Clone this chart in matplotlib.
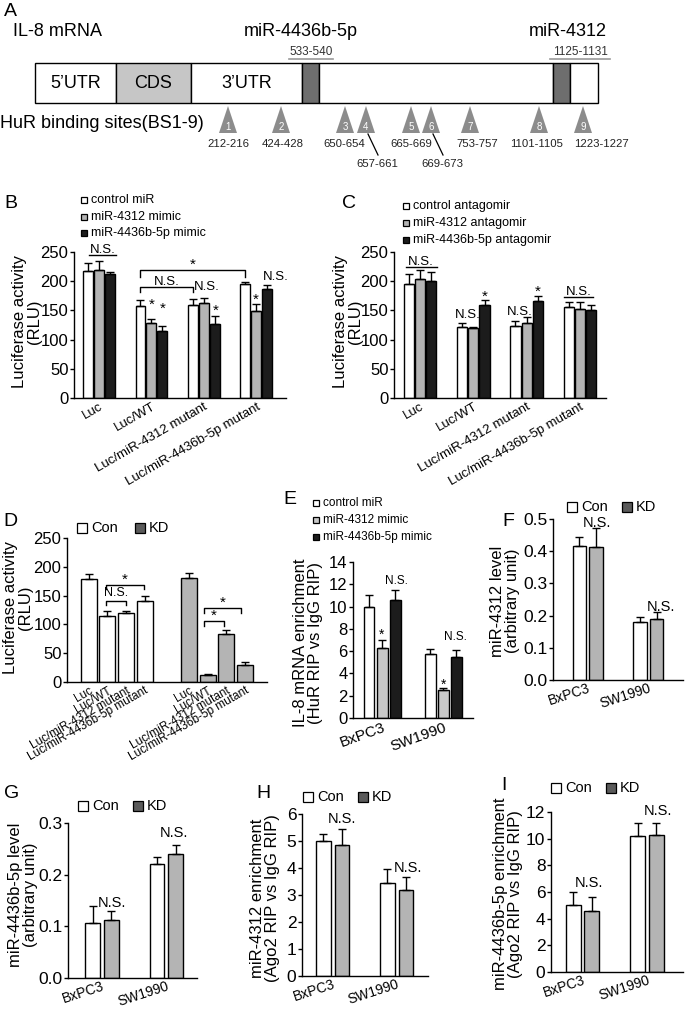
import matplotlib
matplotlib.use("Agg")
import matplotlib.pyplot as plt
import numpy as np
from matplotlib.patches import Rectangle, Polygon
from matplotlib.ticker import FormatStrFormatter

W, H = 685, 1009
plt.rcParams["font.family"] = ["Liberation Sans", "DejaVu Sans"]

WHITE, GRAY, LGRAY, BLACK, DARK = "white", "#b4b4b4", "#c8c8c8", "#1c1c1c", "#5a5a5a"

# ---------------------------------------------------------------------------
# DATA
# ---------------------------------------------------------------------------
# panel A schematic (nucleotide ranges of HuR sites, schematic positions)
A_SEGMENTS = ["5’UTR", "CDS", "3’UTR", "", "", "", ""]
A_SEG_EDGES = [35, 116, 191, 302, 319, 553, 570, 598]
A_SEG_COLORS = [WHITE, "#c6c6c6", WHITE, "#6e6e6e", WHITE, "#6e6e6e", WHITE]
A_MIR = ["miR-4436b-5p", "miR-4312"]
A_MIR_SITES = ["533-540", "1125-1131"]
A_MIR_X = [311, 580]
SITE_X = [228, 281, 345, 366, 411, 431, 470, 539, 583]
SITE_RANGES = ["212-216", "424-428", "650-654", "657-661", "665-669",
               "669-673", "753-757", "1101-1105", "1223-1227"]
SITE_LABEL_X = [228, 283, 344, 377, 411, 442, 477, 537, 601]
SITE_LOWER = [0, 0, 0, 1, 0, 1, 0, 0, 0]

LUC_GROUPS = ["Luc", "Luc/WT", "Luc/miR-4312 mutant", "Luc/miR-4436b-5p mutant"]

B_SERIES = ["control miR", "miR-4312 mimic", "miR-4436b-5p mimic"]
B_VALUES = [[218, 158, 159, 195], [219, 128, 163, 149], [213, 114, 126, 186]]
B_ERRORS = [[13, 10, 10, 4], [16, 8, 8, 12], [3, 10, 14, 7]]

C_SERIES = ["control antagomir", "miR-4312 antagomir", "miR-4436b-5p antagomir"]
C_VALUES = [[195, 122, 124, 155], [203, 120, 128, 152], [201, 160, 166, 151]]
C_ERRORS = [[18, 6, 8, 9], [16, 2, 10, 12], [15, 8, 9, 9]]

D_CON = [178, 114, 119, 140]
D_CON_ERR = [9, 9, 4, 9]
D_KD = [180, 13, 84, 30]
D_KD_ERR = [9, 1, 6, 4]

CELLS = ["BxPC3", "SW1990"]
E_SERIES = ["control miR", "miR-4312 mimic", "miR-4436b-5p mimic"]
E_VALUES = [[10.0, 5.7], [6.3, 2.5], [10.6, 5.5]]
E_ERRORS = [[1.0, 0.5], [0.7, 0.15], [0.9, 0.6]]

F_VALUES = [[0.415, 0.18], [0.412, 0.19]]
F_ERRORS = [[0.03, 0.017], [0.06, 0.02]]
G_VALUES = [[0.107, 0.22], [0.112, 0.24]]
G_ERRORS = [[0.033, 0.014], [0.018, 0.018]]
H_VALUES = [[5.0, 3.45], [4.85, 3.2]]
H_ERRORS = [[0.25, 0.5], [0.6, 0.45]]
I_VALUES = [[5.05, 10.2], [4.6, 10.3]]
I_ERRORS = [[0.95, 1.0], [1.0, 0.9]]


# ---------------------------------------------------------------------------
# HELPERS
# ---------------------------------------------------------------------------
def px_axes(fig, x0, y0, x1, y1):
    return fig.add_axes([x0 / W, 1 - y1 / H, (x1 - x0) / W, (y1 - y0) / H])


def style(ax, ylim, yticks, fs):
    ax.spines[["top", "right"]].set_visible(False)
    for s in ax.spines.values():
        s.set_linewidth(1)
    ax.set_ylim(*ylim)
    ax.set_yticks(yticks)
    ax.tick_params(axis="y", direction="out", length=3, width=1, labelsize=fs, pad=1)
    ax.tick_params(axis="x", length=0, pad=2)


def grouped(ax, pos, values, errors, colors, offsets, width):
    for vals, errs, col, off in zip(values, errors, colors, offsets):
        x = np.asarray(pos, dtype=float) + off
        ax.bar(x, vals, width, color=col, edgecolor="black", linewidth=1, zorder=2)
        ax.errorbar(x, vals, yerr=[np.zeros(len(vals)), errs], fmt="none",
                    ecolor="black", elinewidth=1, capsize=3, capthick=1, zorder=3)


def xlabels(ax, pos, labels, rot, fs):
    ax.set_xticks(pos)
    ax.set_xticklabels(labels, rotation=rot, ha="right", va="top",
                       rotation_mode="anchor", fontsize=fs)


def bracket(ax, x0, x1, y, drop, text, ty, fs):
    ax.plot([x0, x0, x1, x1], [y - drop, y, y, y - drop], color="black",
            lw=1, clip_on=False, zorder=4)
    ax.text((x0 + x1) / 2, ty, text, ha="center", va="center", fontsize=fs)


def marks(ax, items, fs):
    for x, y, t in items:
        ax.text(x, y, t, ha="center", va="center", fontsize=fs)


def legend_px(fig, x, y, labels, colors, size, fs, step, vertical=True, gap=4):
    for i, (lab, col) in enumerate(zip(labels, colors)):
        xi = x if vertical else x + i * step
        yi = y + i * step if vertical else y
        fig.add_artist(Rectangle((xi / W, 1 - (yi + size / 2) / H), size / W, size / H,
                                 transform=fig.transFigure, facecolor=col,
                                 edgecolor="black", linewidth=0.9))
        fig.text((xi + size + gap) / W, 1 - yi / H, lab, ha="left", va="center", fontsize=fs)


def ylabel_px(fig, x, y, text, fs):
    fig.text(x / W, 1 - y / H, text, rotation=90, ha="center", va="center",
             multialignment="center", fontsize=fs, linespacing=1.0)


def letter(fig, x, y, t):
    fig.text(x / W, 1 - y / H, t, ha="left", va="center", fontsize=14)


fig = plt.figure(figsize=(W / 100, H / 100), dpi=100)

# ---------------------------------------------------------------------------
# A — schematic
# ---------------------------------------------------------------------------
axA = fig.add_axes([0, 1 - 175 / H, 1, 175 / H])
axA.set_xlim(0, W)
axA.set_ylim(175, 0)
axA.axis("off")
for lab, x0, x1, col in zip(A_SEGMENTS, A_SEG_EDGES[:-1], A_SEG_EDGES[1:], A_SEG_COLORS):
    axA.add_patch(Rectangle((x0, 63), x1 - x0, 40, facecolor=col, edgecolor="black", lw=1))
    if lab:
        axA.text((x0 + x1) / 2, 83, lab, ha="center", va="center", fontsize=13)
axA.text(13, 32, "IL-8 mRNA", ha="left", va="center", fontsize=13)
for name, site, x in zip(A_MIR, A_MIR_SITES, A_MIR_X):
    axA.text(x - 10 if name == "miR-4436b-5p" else x - 12, 32, name,
             ha="center", va="center", fontsize=13)
    axA.text(x, 52, site, ha="center", va="center", fontsize=8.5, color="#333333")
    half = 22 if len(site) < 8 else 30
    axA.plot([x - half, x + half], [59, 59], color="#999999", lw=1.2)
axA.text(0, 123, "HuR binding sites(BS1-9)", ha="left", va="center", fontsize=13)
for i, (x, rng, lx, low) in enumerate(zip(SITE_X, SITE_RANGES, SITE_LABEL_X, SITE_LOWER)):
    axA.add_patch(Polygon([(x, 106), (x - 9, 133), (x + 9, 133)], closed=True,
                          facecolor="#8c8c8c", edgecolor="none"))
    axA.text(x, 127, str(i + 1), ha="center", va="center", fontsize=7, color="white")
    ly = 164 if low else 144
    axA.text(lx, ly, rng, ha="center", va="center", fontsize=8.2, color="#222222")
    if low:
        axA.plot([x + 2, lx + 1], [134, 155], color="black", lw=0.9)
letter(fig, 4, 12, "A")

# ---------------------------------------------------------------------------
# B
# ---------------------------------------------------------------------------
axB = px_axes(fig, 74, 252, 286, 398)
pos = np.arange(len(LUC_GROUPS))
grouped(axB, pos, B_VALUES, B_ERRORS, [WHITE, GRAY, BLACK], [-0.21, 0, 0.21], 0.19)
axB.set_xlim(-0.48, 3.57)
style(axB, (0, 250), range(0, 251, 50), 12)
xlabels(axB, pos, LUC_GROUPS, 30, 9.5)
axB.plot([-0.2, 0.33], [245, 245], color="black", lw=1)
axB.text(0.06, 253, "N.S.", ha="center", va="center", fontsize=9.5)
bracket(axB, 0.79, 2.79, 219, 12, "*", 228, 11)
bracket(axB, 0.79, 1.79, 190, 9, "N.S.", 199, 9.5)
marks(axB, [(2.05, 190, "N.S."), (3.38, 207, "N.S.")], 9.5)
marks(axB, [(1.0, 160, "*"), (1.21, 152, "*"), (2.23, 149, "*"), (3.0, 169, "*")], 11)
legend_px(fig, 81, 200, B_SERIES, [WHITE, GRAY, BLACK], 6, 9, 16.5)
ylabel_px(fig, 27, 322, "Luciferase activity\n(RLU)", 12)
letter(fig, 4, 204, "B")

# ---------------------------------------------------------------------------
# C
# ---------------------------------------------------------------------------
axC = px_axes(fig, 394, 252, 606, 398)
grouped(axC, pos, C_VALUES, C_ERRORS, [WHITE, GRAY, BLACK], [-0.21, 0, 0.21], 0.19)
axC.set_xlim(-0.49, 3.49)
style(axC, (0, 250), range(0, 251, 50), 12)
xlabels(axC, pos, LUC_GROUPS, 30, 9.5)
axC.plot([-0.27, 0.32], [224, 224], color="black", lw=1)
axC.text(0.02, 233, "N.S.", ha="center", va="center", fontsize=9.5)
axC.plot([2.7, 3.24], [173, 173], color="black", lw=1)
axC.text(2.97, 182, "N.S.", ha="center", va="center", fontsize=9.5)
marks(axC, [(0.9, 142, "N.S."), (1.87, 147, "N.S.")], 9.5)
marks(axC, [(1.22, 174, "*"), (2.2, 182, "*")], 11)
legend_px(fig, 403, 206, C_SERIES, [WHITE, GRAY, BLACK], 6, 9, 17)
ylabel_px(fig, 348, 322, "Luciferase activity\n(RLU)", 12)
letter(fig, 342, 204, "C")

# ---------------------------------------------------------------------------
# D
# ---------------------------------------------------------------------------
axD = px_axes(fig, 67, 538, 267, 682)
d_con_pos = np.arange(4)
d_kd_pos = np.arange(4) + 5.4
grouped(axD, d_con_pos, [D_CON], [D_CON_ERR], [WHITE], [0], 0.86)
grouped(axD, d_kd_pos, [D_KD], [D_KD_ERR], [GRAY], [0], 0.86)
axD.set_xlim(-1.18, 9.6)
style(axD, (0, 250), range(0, 251, 50), 12)
xlabels(axD, np.concatenate([d_con_pos, d_kd_pos]), LUC_GROUPS * 2, 30, 8.5)
bracket(axD, 0.92, 2.96, 168, 7, "*", 178, 11)
bracket(axD, 0.92, 2.0, 141, 7, "N.S.", 154, 9)
bracket(axD, 6.18, 8.2, 128, 8, "*", 138, 11)
bracket(axD, 6.18, 7.26, 106, 9, "*", 115, 11)
legend_px(fig, 77, 528, ["Con", "KD"], [WHITE, DARK], 10, 10.5, 58, vertical=False)
ylabel_px(fig, 18, 608, "Luciferase activity\n(RLU)", 12)
letter(fig, 3, 522, "D")

# ---------------------------------------------------------------------------
# E
# ---------------------------------------------------------------------------
axE = px_axes(fig, 353, 562, 473, 718)
cpos = np.arange(len(CELLS))
grouped(axE, cpos, E_VALUES, E_ERRORS, [WHITE, LGRAY, BLACK], [-0.213, 0, 0.213], 0.18)
axE.set_xlim(-0.475, 1.49)
style(axE, (0, 14), range(0, 15, 2), 12)
xlabels(axE, cpos, CELLS, 20, 11)
marks(axE, [(0.24, 12.3, "N.S."), (1.2, 7.3, "N.S.")], 8.5)
marks(axE, [(0.0, 7.5, "*"), (1.0, 3.0, "*")], 10)
legend_px(fig, 313, 503, E_SERIES, [WHITE, LGRAY, BLACK], 6, 8.5, 17)
ylabel_px(fig, 308, 643, "IL-8 mRNA enrichment\n(HuR RIP vs IgG RIP)", 12)
letter(fig, 283, 500, "E")


# ---------------------------------------------------------------------------
# F, G, H, I
# ---------------------------------------------------------------------------
def kd_panel(box, values, errors, xlim, ylim, yticks, fmt, ns, ylab, ylab_xy,
             leg_xy, let, let_xy, off=0.145, width=0.23):
    ax = px_axes(fig, *box)
    grouped(ax, cpos, values, errors, [WHITE, GRAY], [-off, off], width)
    ax.set_xlim(*xlim)
    style(ax, ylim, yticks, 12.5)
    if fmt:
        ax.yaxis.set_major_formatter(FormatStrFormatter(fmt))
    xlabels(ax, cpos, CELLS, 18, 10)
    ax.tick_params(axis="x", pad=1)
    marks(ax, ns, 10.5)
    legend_px(fig, leg_xy[0], leg_xy[1], ["Con", "KD"], [WHITE, DARK], 10, 10.5,
              55, vertical=False)
    ylabel_px(fig, ylab_xy[0], ylab_xy[1], ylab, 12)
    letter(fig, let_xy[0], let_xy[1], let)


kd_panel((553, 519, 683, 680), F_VALUES, F_ERRORS, (-0.58, 1.58), (0, 0.5),
         np.arange(0, 0.51, 0.1), "%.1f", [(0.15, 0.488, "N.S."), (1.22, 0.226, "N.S.")],
         "miR-4312 level\n(arbitrary unit)", (505, 601), (567, 507), "F", (502, 521),
         off=0.14)
kd_panel((68, 823, 197, 978), G_VALUES, G_ERRORS, (-0.53, 1.48), (0, 0.3),
         np.arange(0, 0.31, 0.1), "%.1f", [(0.16, 0.145, "N.S."), (1.12, 0.28, "N.S.")],
         "miR-4436b-5p level\n(arbitrary unit)", (23, 895), (78, 806), "G", (4, 794))
kd_panel((302, 814, 428, 976), H_VALUES, H_ERRORS, (-0.48, 1.49), (0, 6),
         range(0, 7), None, [(0.15, 5.8, "N.S."), (1.18, 4.0, "N.S.")],
         "miR-4312 enrichment\n(Ago2 RIP vs IgG RIP)", (265, 898), (303, 797), "H", (256, 794))
kd_panel((551, 812, 683, 972), I_VALUES, I_ERRORS, (-0.49, 1.56), (0, 12),
         range(0, 13, 2), None, [(0.1, 6.7, "N.S."), (1.17, 12.1, "N.S.")],
         "miR-4436b-5p enrichment\n(Ago2 RIP vs IgG RIP)", (508, 894), (551, 788), "I", (501, 786))

fig.savefig("out.png", dpi=100)
